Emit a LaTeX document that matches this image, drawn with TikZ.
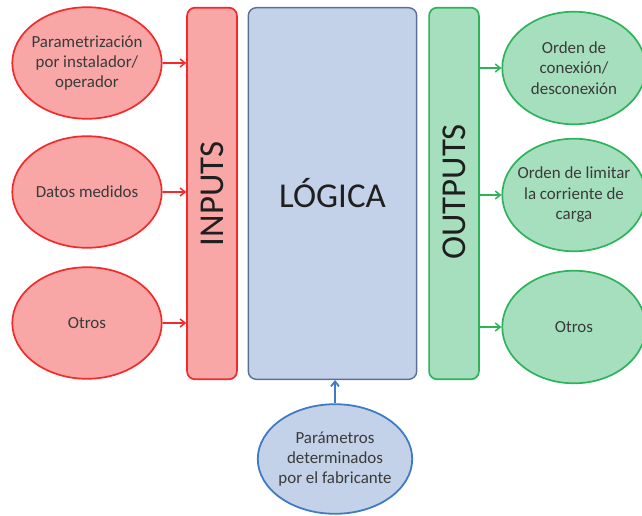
\documentclass[tikz,border=0pt]{standalone}
\usepackage{fontspec}
\setmainfont{Carlito}
\usetikzlibrary{shapes.geometric,arrows.meta}
\definecolor{redline}{HTML}{F42A2A}
\definecolor{redfill}{HTML}{F8A6A6}
\definecolor{greenline}{HTML}{2DB35C}
\definecolor{greenfill}{HTML}{A6DFBD}
\definecolor{bluefill}{HTML}{C3D2E8}
\definecolor{blueline}{HTML}{3F7BC4}
\definecolor{boxline}{HTML}{5A7194}
\definecolor{txt}{HTML}{3A3A3A}
\tikzset{
  lbl/.style={font=\fontsize{17}{20.5}\selectfont, text=txt, align=center},
  big/.style={font=\fontsize{35}{40}\selectfont, text=black!88},
  % negative horizontal padding keeps the oval size fixed by the minimum size
  oval/.style={ellipse, inner xsep=-25pt, inner ysep=0pt, lbl},
  inoval/.style={oval, draw=redline, fill=redfill, line width=1.7pt,
    minimum width=150, minimum height=112},
  outoval/.style={oval, draw=greenline, fill=greenfill, line width=1.7pt,
    minimum width=144, minimum height=113},
  bar/.style={rectangle, rounded corners=8, line width=1.7pt, minimum width=50,
    minimum height=373, inner sep=0pt},
  inarrow/.style={draw=redline, line width=1.5pt, -{Straight Barb[length=5pt,width=8pt]}},
  outarrow/.style={draw=greenline, line width=1.5pt, -{Straight Barb[length=5pt,width=8pt]}},
  uparrow/.style={draw=blueline, line width=1.8pt, -{Straight Barb[length=5pt,width=8pt]}}
}
\begin{document}
\begin{tikzpicture}[x=1bp, y=-1bp]
\useasboundingbox[fill=white] (0,0) rectangle (642,516);

% central column: inputs bar, logic block, outputs bar
\node[bar, draw=redline, fill=redfill] (inbar) at (212,193.5) {};
\node[big, rotate=90] (intext) at (212,194) {INPUTS};
\node[bar, draw=boxline, fill=bluefill, minimum width=169, line width=1.4pt] (logic) at (332.5,193.5) {};
\node[big] (logictext) at (332.5,193) {LÓGICA};
\node[bar, draw=greenline, fill=greenfill] (outbar) at (454,193.5) {};
\node[big, rotate=90] (outtext) at (454,192) {OUTPUTS};

% inputs
\node[inoval] (param) at (87,63) {Parametrización\\por instalador/\\operador};
\node[inoval] (datos) at (87,192) {Datos medidos};
\node[inoval] (otrosin) at (87,323) {Otros};

% outputs
\node[outoval] (conex) at (574,68) {Orden de\\conexión/\\desconexión};
\node[outoval] (limit) at (574,195) {Orden de limitar\\la corriente de\\carga};
\node[outoval] (otrosout) at (574,327) {Otros};

% manufacturer parameters
\node[oval, draw=blueline, fill=bluefill, line width=1.8pt, minimum width=155,
  minimum height=110] (fab) at (335,459)
  {Parámetros\\determinados\\por el fabricante};

% connectors
\draw[inarrow] (param.east) -- (param.east -| inbar.west);
\draw[inarrow] (datos.east) -- (datos.east -| inbar.west);
\draw[inarrow] (otrosin.east) -- (otrosin.east -| inbar.west);
\draw[outarrow] (conex.west -| outbar.east) -- (conex.west);
\draw[outarrow] (limit.west -| outbar.east) -- (limit.west);
\draw[outarrow] (otrosout.west -| outbar.east) -- (otrosout.west);
\draw[uparrow] (fab.north) -- (fab.north |- logic.south);
\end{tikzpicture}
\end{document}
